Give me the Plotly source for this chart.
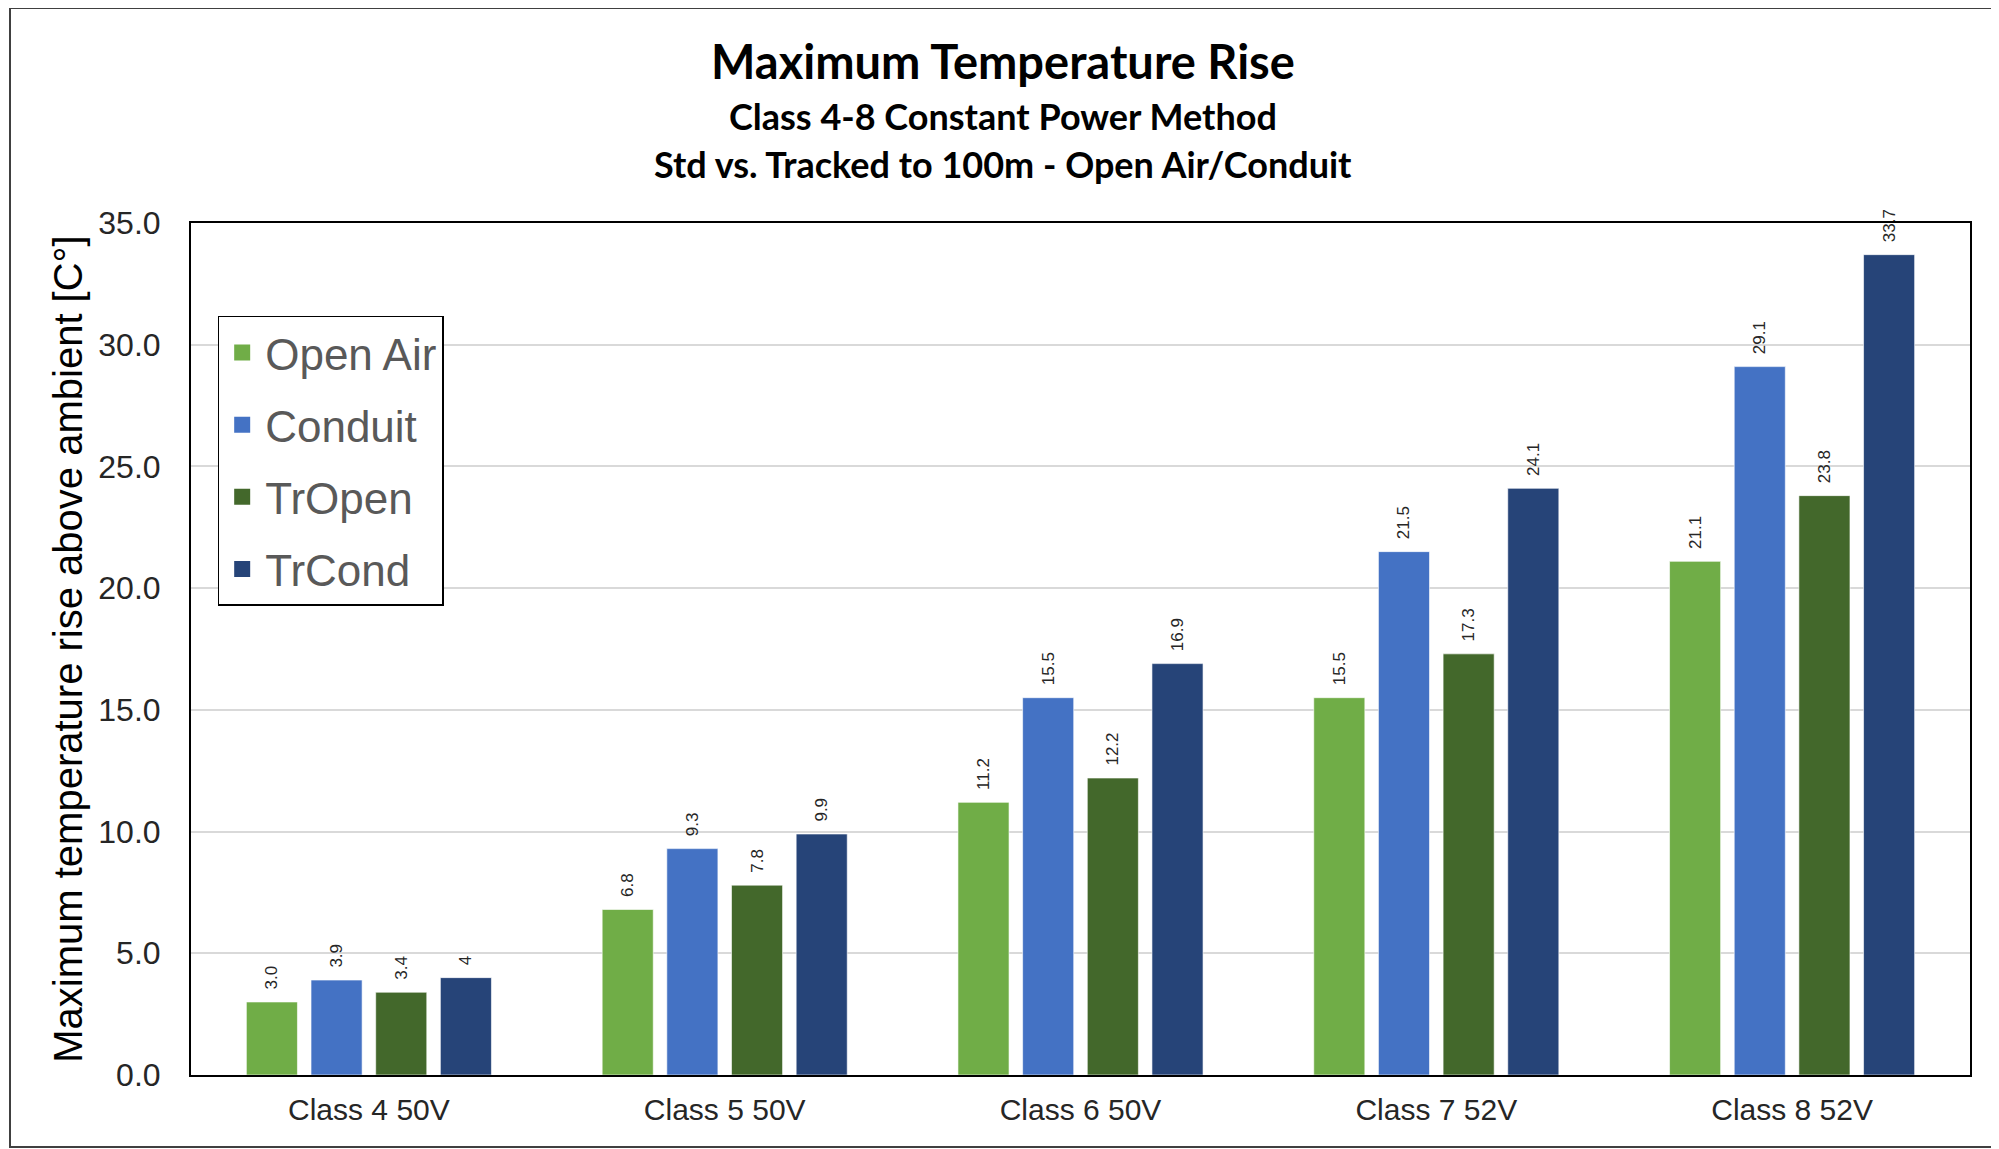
import plotly.graph_objects as pg

categories = ["Class 4 50V", "Class 5 50V", "Class 6 50V", "Class 7 52V", "Class 8 52V"]

open_air = [3.0, 6.8, 11.2, 15.5, 21.1]
conduit = [3.9, 9.3, 15.5, 21.5, 29.1]
tr_open = [3.4, 7.8, 12.2, 17.3, 23.8]
tr_cond = [4.0, 9.9, 16.9, 24.1, 33.7]

open_air_labels = ["3.0", "6.8", "11.2", "15.5", "21.1"]
conduit_labels = ["3.9", "9.3", "15.5", "21.5", "29.1"]
tr_open_labels = ["3.4", "7.8", "12.2", "17.3", "23.8"]
tr_cond_labels = ["4", "9.9", "16.9", "24.1", "33.7"]

y_ticks = [0, 5, 10, 15, 20, 25, 30, 35]

series = [
    ("Open Air", open_air, open_air_labels, "#70AD47"),
    ("Conduit", conduit, conduit_labels, "#4472C4"),
    ("TrOpen", tr_open, tr_open_labels, "#43682B"),
    ("TrCond", tr_cond, tr_cond_labels, "#264478"),
]

# the page has an 8px body margin, so the figure is 8px smaller on each edge we need
W, H = 1991, 1141
margin = dict(l=183, r=29, t=215, b=74)
plot_w = W - margin["l"] - margin["r"]
plot_h = H - margin["t"] - margin["b"]


def px_x(x):
    return (x - margin["l"]) / plot_w


def px_y(y):
    return (H - margin["b"] - y) / plot_h


figure = pg.Figure()
for name, values, labels, color in series:
    figure.add_trace(pg.Bar(x=categories, y=values, name=name, legendgroup=name,
                            showlegend=False,
                            text=labels, texttemplate="\u00a0\u00a0%{text}",
                            textposition="outside", textangle=-90,
                            constraintext="none", cliponaxis=False,
                            textfont=dict(family="Liberation Sans", size=17, color="#262626"),
                            marker=dict(color=color, line=dict(color="rgba(255,255,255,0.6)", width=1))))
    # legend-only entry, so the legend square can be larger than the bar default
    figure.add_trace(pg.Scatter(x=[None], y=[None], name=name, legendgroup=name,
                                mode="markers",
                                marker=dict(symbol="square", size=16, color=color)))

# outer frame of the chart
figure.add_shape(type="rect", xref="paper", yref="paper",
                 x0=px_x(2), x1=px_x(1988), y0=px_y(1139), y1=px_y(0),
                 line=dict(color="#404040", width=2))

title_font = "Lato"
titles = [("<b>Maximum Temperature Rise</b>", 53, 47),
          ("<b>Class 4-8 Constant Power Method</b>", 108, 36),
          ("<b>Std vs. Tracked to 100m - Open Air/Conduit</b>", 156, 36)]
for text, y, size in titles:
    figure.add_annotation(text=text, xref="paper", yref="paper",
                          x=px_x(995), y=px_y(y), xanchor="center", yanchor="middle",
                          showarrow=False, font=dict(family=title_font, size=size, color="black"))

figure.update_layout(width=W, height=H, margin=margin,
                     paper_bgcolor="white", plot_bgcolor="white",
                     barmode="group", bargap=0.273, bargroupgap=0.21,
                     font=dict(family="Liberation Sans"),
                     legend=dict(x=0.015, y=0.891, xanchor="left", yanchor="top",
                                 bgcolor="white", bordercolor="black", borderwidth=1.5,
                                 font=dict(family="Liberation Sans", size=44, color="#595959"),
                                 tracegroupgap=12, itemwidth=36, itemsizing="trace"))
figure.update_xaxes(showline=True, linecolor="black", linewidth=2, mirror=True,
                    tickfont=dict(family="Liberation Sans", size=30, color="#262626"),
                    ticks="", ticklabelstandoff=7)
figure.update_yaxes(range=[0, 35], tickvals=y_ticks, tickformat=".1f",
                    showline=True, linecolor="black", linewidth=2, mirror=True,
                    gridcolor="#D9D9D9", gridwidth=1.5, zeroline=False,
                    ticks="", ticklabelstandoff=22,
                    tickfont=dict(family="Liberation Sans", size=32, color="#262626"),
                    title=dict(text="Maximum temperature rise above ambient [C°]", standoff=3,
                               font=dict(family="Liberation Sans", size=40, color="black")))

figure.write_html("out.html")
